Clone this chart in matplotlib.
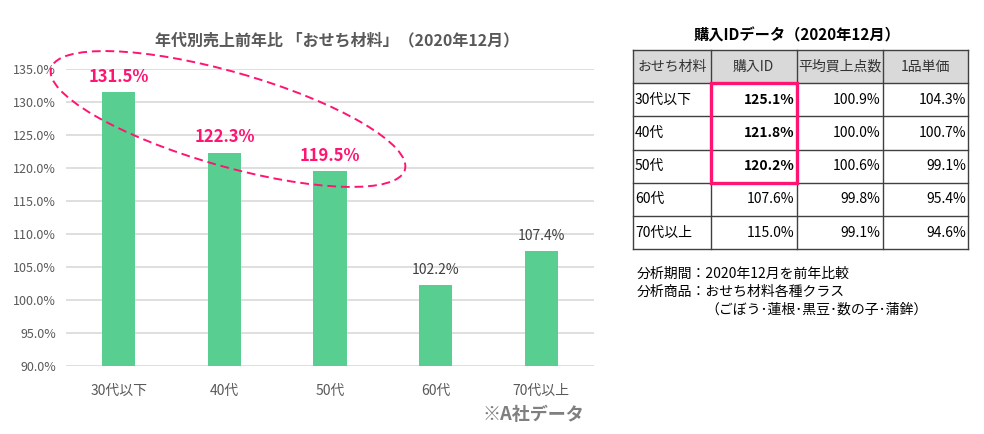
import matplotlib
matplotlib.use("Agg")
import matplotlib.pyplot as plt
from matplotlib.patches import Ellipse, Rectangle

plt.rcParams['font.family'] = ['Noto Sans CJK JP', 'DejaVu Sans']

# 年代別売上前年比
ages = ['30代以下', '40代', '50代', '60代', '70代以上']
yoy = [131.5, 122.3, 119.5, 102.2, 107.4]
highlight = [True, True, True, False, False]

# 購入IDデータ
table_cols = ['おせち材料', '購入ID', '平均買上点数', '1品単価']
table_rows = ['30代以下', '40代', '50代', '60代', '70代以上']
id_vals = [125.1, 121.8, 120.2, 107.6, 115.0]
pts_vals = [100.9, 100.0, 100.6, 99.8, 99.1]
price_vals = [104.3, 100.7, 99.1, 95.4, 94.6]

W, H = 984, 434
green = '#58cf91'
pink = '#ff1472'
gray = '#595959'

fig = plt.figure(figsize=(W / 100, H / 100), dpi=100)


def fr(x0, y0, x1, y1):
    # pixel box (top-left origin) -> figure fraction rect
    return [x0 / W, 1 - y1 / H, (x1 - x0) / W, (y1 - y0) / H]


ax = fig.add_axes(fr(66, 68.7, 594, 365.7))
x = range(len(ages))
ax.bar(x, yoy, width=0.315, color=green, zorder=2)
ax.set_xlim(-0.5, len(ages) - 0.5)
ax.set_ylim(90, 135)
ax.set_yticks([90 + 5 * i for i in range(10)])
ax.set_yticklabels([f'{90 + 5 * i:.1f}%' for i in range(10)])
ax.set_xticks(list(x))
ax.set_xticklabels(ages)
ax.yaxis.grid(True, color='#d9d9d9', lw=1.2, zorder=0)
for s in ax.spines.values():
    s.set_visible(False)
ax.tick_params(length=0, colors=gray, labelsize=9)
ax.tick_params(axis='x', pad=13, labelsize=10)
ax.tick_params(axis='y', pad=7)

for i, v in enumerate(yoy):
    if highlight[i]:
        ax.annotate(f'{v:.1f}%', (i, v), xytext=(0, 11), textcoords='offset points',
                    ha='center', va='center', color=pink, fontsize=12, fontweight='bold')
    else:
        ax.annotate(f'{v:.1f}%', (i, v), xytext=(0, 11), textcoords='offset points',
                    ha='center', va='center', color='#404040', fontsize=10)

# overlay in pixel units for annotations and the table
ov = fig.add_axes([0, 0, 1, 1], facecolor='none')
ov.set_xlim(0, W)
ov.set_ylim(H, 0)
ov.axis('off')

ov.text(337, 40, '年代別売上前年比 「おせち材料」（2020年12月）', ha='center', va='center',
        fontsize=11.5, fontweight='bold', color=gray)
ov.add_patch(Ellipse((228, 119), 368, 94, angle=16, fill=False, ec=pink,
                     lw=1.4, ls=(0, (4.5, 2.5))))
ov.text(533, 415, '※A社データ', ha='center', va='center', fontsize=13,
        fontweight='bold', color='#7f7f7f')

# table
col_w = [77.7, 86, 86, 85.3]
row_h = 33.2
tx0, ty0 = 633, 50
edges = [tx0]
for w in col_w:
    edges.append(edges[-1] + w)

ov.text(797, 35, '購入IDデータ（2020年12月）', ha='center', va='center',
        fontsize=11, fontweight='bold', color='black')

ov.add_patch(Rectangle((tx0, ty0), edges[-1] - tx0, row_h, fc='#d9d9d9', ec='none'))
for j, c in enumerate(table_cols):
    ov.text((edges[j] + edges[j + 1]) / 2, ty0 + row_h / 2, c, ha='center', va='center',
            fontsize=10, color='#333333')

body = [table_rows,
        [f'{v:.1f}%' for v in id_vals],
        [f'{v:.1f}%' for v in pts_vals],
        [f'{v:.1f}%' for v in price_vals]]
for r in range(len(table_rows)):
    yc = ty0 + row_h * (r + 1.5)
    for j in range(len(table_cols)):
        if j == 0:
            ov.text(edges[0] + 2, yc, body[j][r], ha='left', va='center', fontsize=10,
                    color='black')
        else:
            bold = (j == 1 and highlight[r])
            ov.text(edges[j + 1] - 2, yc, body[j][r], ha='right', va='center', fontsize=10,
                    color='black', fontweight='bold' if bold else 'normal')

n_lines = len(table_rows) + 1
for k in range(n_lines + 1):
    yy = ty0 + row_h * k
    ov.plot([edges[0], edges[-1]], [yy, yy], color='#404040', lw=1)
for e in edges:
    ov.plot([e, e], [ty0, ty0 + row_h * n_lines], color='#404040', lw=1)

n_hl = sum(highlight)
ov.add_patch(Rectangle((edges[1], ty0 + row_h), edges[2] - edges[1], row_h * n_hl,
                       fill=False, ec=pink, lw=2.4, zorder=5))

ov.text(637, 274, '分析期間：2020年12月を前年比較', ha='left', va='center', fontsize=10)
ov.text(637, 292, '分析商品：おせち材料各種クラス', ha='left', va='center', fontsize=10)
ov.text(705, 310, '（ごぼう･蓮根･黒豆･数の子･蒲鉾）', ha='left', va='center', fontsize=10)

fig.savefig('out.png', dpi=100)
